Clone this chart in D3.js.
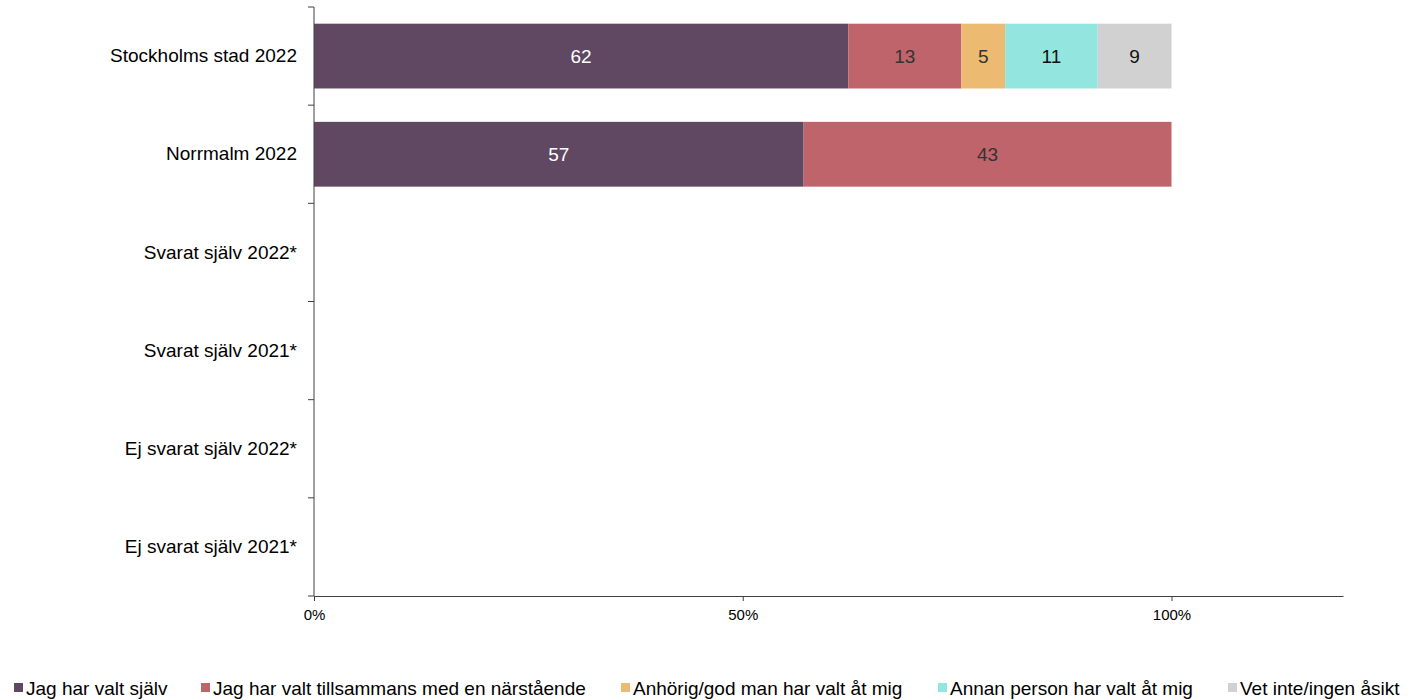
<!DOCTYPE html>
<html>
<head>
<meta charset="utf-8">
<script src="https://cdn.jsdelivr.net/npm/d3@7"></script>
<style>
  body { margin: 0; background: #fff; }
  svg { display: block; font-family: "Liberation Sans", Arial, sans-serif; }
</style>
</head>
<body>
<div id="chart"></div>
<script>
// chart data (percent; labels show rounded values)
var categories = ["Stockholms stad 2022", "Norrmalm 2022", "Svarat själv 2022*",
  "Svarat själv 2021*", "Ej svarat själv 2022*", "Ej svarat själv 2021*"];
var seriesNames = ["Jag har valt själv", "Jag har valt tillsammans med en närstående",
  "Anhörig/god man har valt åt mig", "Annan person har valt åt mig", "Vet inte/ingen åsikt"];
var valtSjalv = [62.3, 57.1, null, null, null, null];
var tillsammans = [13.2, 42.9, null, null, null, null];
var anhorig = [5.1, null, null, null, null, null];
var annanPerson = [10.8, null, null, null, null, null];
var vetInte = [8.6, null, null, null, null, null];
var xTicks = [0, 50, 100];

var colors = ["#614862", "#C0646C", "#ECBB71", "#93E6E0", "#D1D1D1"];
var labelColors = ["#ffffff", "#333333", "#333333", "#111111", "#111111"];
var legendX = [14, 201, 621, 938, 1228];

var svgWidth = 1412;
var svgHeight = 700;

var margin = { top: 7, right: 69, bottom: 104, left: 314 };
var width = svgWidth - margin.left - margin.right;
var height = svgHeight - margin.top - margin.bottom;

var svg = d3.select("#chart")
  .append("svg")
  .attr("width", svgWidth)
  .attr("height", svgHeight);

var chartGroup = svg.append("g")
  .attr("transform", `translate(${margin.left}, ${margin.top})`);

var xScale = d3.scaleLinear()
  .domain([0, 120])
  .range([0, width]);

var yScale = d3.scaleBand()
  .domain(categories)
  .range([0, height])
  .paddingInner(0.34)
  .paddingOuter(0.17);

// build stacked rows
var seriesValues = [valtSjalv, tillsammans, anhorig, annanPerson, vetInte];
var rows = categories.map(function(c, i) {
  var row = { category: c };
  seriesNames.forEach(function(s, j) { row[s] = seriesValues[j][i] || 0; });
  return row;
});
var stacked = d3.stack().keys(seriesNames)(rows);

var layers = chartGroup.selectAll(".layer")
  .data(stacked)
  .enter()
  .append("g")
  .attr("class", "layer")
  .attr("fill", (d, i) => colors[i]);

layers.selectAll("rect")
  .data(d => d.filter(p => p[1] - p[0] > 0))
  .enter()
  .append("rect")
  .attr("x", d => xScale(d[0]))
  .attr("y", d => yScale(d.data.category))
  .attr("width", d => xScale(d[1]) - xScale(d[0]))
  .attr("height", yScale.bandwidth());

layers.each(function(layer, i) {
  d3.select(this).selectAll("text")
    .data(layer.filter(p => p[1] - p[0] > 0))
    .enter()
    .append("text")
    .attr("x", d => xScale((d[0] + d[1]) / 2))
    .attr("y", d => yScale(d.data.category) + yScale.bandwidth() / 2)
    .attr("dy", "0.35em")
    .attr("text-anchor", "middle")
    .attr("fill", labelColors[i])
    .style("font-size", "19px")
    .text(d => Math.round(d[1] - d[0]));
});

// y axis: labels from d3 axis, ticks at band edges
var leftAxis = d3.axisLeft(yScale).tickSize(0).tickPadding(17);
var yAxis = chartGroup.append("g").call(leftAxis);
yAxis.select(".domain").remove();
yAxis.selectAll("text")
  .style("font-size", "19px")
  .attr("fill", "#000");

var step = yScale.step();
var edges = d3.range(categories.length + 1).map(i => i * step);
chartGroup.append("line")
  .attr("x1", 0).attr("x2", 0)
  .attr("y1", 0).attr("y2", height)
  .attr("stroke", "#404040");
chartGroup.selectAll(".ytick")
  .data(edges)
  .enter()
  .append("line")
  .attr("class", "ytick")
  .attr("x1", -6).attr("x2", 0)
  .attr("y1", d => d).attr("y2", d => d)
  .attr("stroke", "#404040");

// x axis
var bottomAxis = d3.axisBottom(xScale)
  .tickValues(xTicks)
  .tickSize(5)
  .tickSizeOuter(0)
  .tickPadding(8)
  .tickFormat(d => d + "%");
var xAxis = chartGroup.append("g")
  .attr("transform", `translate(0, ${height})`)
  .call(bottomAxis);
xAxis.select(".domain").attr("stroke", "#404040");
xAxis.selectAll(".tick line").attr("stroke", "#404040");
xAxis.selectAll("text")
  .style("font-size", "15px")
  .attr("fill", "#000");

// legend
var legend = svg.append("g")
  .selectAll("g")
  .data(seriesNames)
  .enter()
  .append("g")
  .attr("transform", (d, i) => `translate(${legendX[i]}, 683)`);

legend.append("rect")
  .attr("width", 9)
  .attr("height", 9)
  .attr("fill", (d, i) => colors[i]);

legend.append("text")
  .attr("x", 12)
  .attr("y", 12)
  .style("font-size", "19px")
  .attr("fill", "#000")
  .text(d => d);
</script>
</body>
</html>
